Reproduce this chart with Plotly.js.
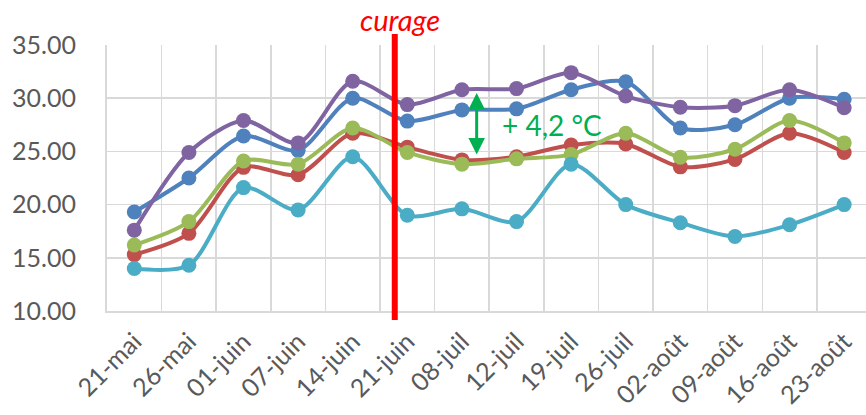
<!DOCTYPE html>
<html><head><meta charset="utf-8">
<script src="https://cdn.plot.ly/plotly-3.0.1.min.js"></script>
<style>html,body{margin:0;padding:0;background:#fff}#c{width:866px;height:415px}</style>
</head><body><div id="c"></div>
<script>
const categories = ["21-mai","26-mai","01-juin","07-juin","14-juin","21-juin","08-juil","12-juil","19-juil","26-juil","02-août","09-août","16-août","23-août"];
const seriesBlue   = [19.3,22.5,26.45,25.1,30.0,27.85,28.9,29.0,30.8,31.55,27.2,27.5,30.0,29.9];
const seriesRed    = [15.3,17.3,23.5,22.8,26.7,25.4,24.2,24.5,25.6,25.7,23.55,24.25,26.7,24.9];
const seriesGreen  = [16.2,18.4,24.1,23.8,27.2,24.9,23.8,24.3,24.7,26.7,24.45,25.2,27.9,25.8];
const seriesPurple = [17.6,24.9,27.9,25.8,31.6,29.4,30.8,30.9,32.4,30.2,29.15,29.3,30.8,29.1];
const seriesCyan   = [14.0,14.3,21.6,19.5,24.5,19.0,19.6,18.4,23.8,20.0,18.3,17.0,18.1,20.0];
const yTicks = [10,15,20,25,30,35];
const names = ["blue","red","green","purple","cyan"];
const colors = ["#4F81BD","#C0504D","#9BBB59","#8064A2","#4BACC6"];
const all = [seriesBlue,seriesRed,seriesGreen,seriesPurple,seriesCyan];

const traces = all.map((s,i)=>({
  x: categories, y: s, type:"scatter", mode:"lines+markers", name:names[i],
  line:{color:colors[i], width:4, shape:"spline", smoothing:0.8},
  marker:{color:colors[i], size:15}, cliponaxis:false
}));

const FONT = "Lato, 'Open Sans', sans-serif";
const layout = {
  width:866, height:415, showlegend:false,
  paper_bgcolor:"#fff", plot_bgcolor:"#fff",
  margin:{l:107, r:0, t:45, b:104},
  font:{family:FONT, color:"#595959"},
  xaxis:{type:"category", range:[-0.5,13.4], tickson:"boundaries", showgrid:true,
    gridcolor:"#d9d9d9", gridwidth:1.5, showline:true, linecolor:"#d9d9d9", linewidth:2,
    ticks:"", tickangle:-45, ticklabelstandoff:4, tickfont:{size:25, color:"#595959", family:FONT}},
  yaxis:{range:[10,35], tickvals:yTicks, ticktext:yTicks.map(v=>v.toFixed(2)),
    showgrid:true, gridcolor:"#d9d9d9", gridwidth:1.5, showline:true, linecolor:"#d9d9d9", linewidth:2,
    zeroline:false, ticks:"", ticklen:0, ticklabelstandoff:24, tickfont:{size:25, color:"#595959", family:FONT}},
  shapes:[{type:"line", xref:"x", yref:"paper", x0:4.77, x1:4.77, y0:-0.034, y1:1.041,
    line:{color:"#FF0000", width:6}, layer:"above"}],
  annotations:[
    {xref:"x", yref:"paper", x:4.86, y:1.094, yanchor:"middle", text:"curage", showarrow:false,
     font:{size:29, color:"#FF0000", family:FONT, style:"italic"}},
    {xref:"x", yref:"y", axref:"x", ayref:"y", x:6.27, y:30.5, ax:6.27, ay:24.57, text:"",
     showarrow:true, arrowhead:2, startarrowhead:2, arrowside:"end+start", arrowsize:1.1, startarrowsize:1.1,
     arrowwidth:3, arrowcolor:"#00B050"},
    {xref:"x", yref:"y", x:7.65, y:27.5, text:"+ 4,2 °C", showarrow:false,
     font:{size:28, color:"#00B050", family:FONT}}
  ]
};
Plotly.newPlot("c", traces, layout, {displayModeBar:false, staticPlot:true});
</script></body></html>
